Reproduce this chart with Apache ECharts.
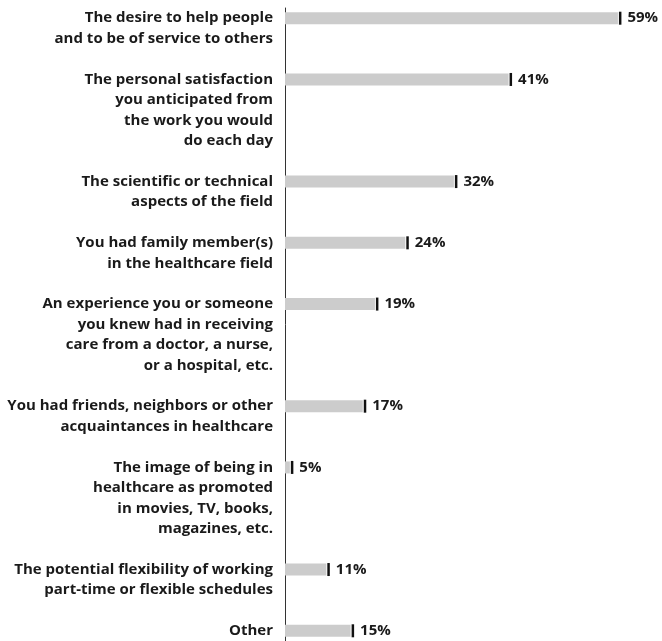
<!DOCTYPE html>
<html>
<head>
<meta charset="utf-8">
<title>Reasons for choosing healthcare</title>
<script src="https://cdn.jsdelivr.net/npm/echarts@6/dist/echarts.min.js"></script>
<style>
  html, body { margin: 0; padding: 0; background: #fff; }
  #chart { width: 662px; height: 641px; }
</style>
</head>
<body>
<div id="chart"></div>
<script>
var categories = [
  'The desire to help people\nand to be of service to others',
  'The personal satisfaction\nyou anticipated from\nthe work you would\ndo each day',
  'The scientific or technical\naspects of the field',
  'You had family member(s)\nin the healthcare field',
  'An experience you or someone\nyou knew had in receiving\ncare from a doctor, a nurse,\nor a hospital, etc.',
  'You had friends, neighbors or other\nacquaintances in healthcare',
  'The image of being in\nhealthcare as promoted\nin movies, TV, books,\nmagazines, etc.',
  'The potential flexibility of working\npart-time or flexible schedules',
  'Other'
];
var values = [59, 41, 32, 24, 19, 17, 5, 11, 15];

// one row per text line, plus an empty row between answers
var rows = [],
    rowValues = [];

function buildRows() {
  for(var i = 0; i < categories.length; i++) {
    var lines = categories[i].split('\n');
    for(var j = 0; j < lines.length; j++) {
      rows.push(lines[j]);
      rowValues.push(j === 0 ? values[i] : '-');
    }
    if(i < categories.length - 1) {
      rows.push('');
      rowValues.push('-');
    }
  }
}

buildRows();

var chart = echarts.init(document.getElementById('chart'));
var font = '"Open Sans", Lato, sans-serif';

var option = {
  animation: false,
  grid: {left: 285, right: 38, top: 8, height: 633},
  xAxis: {
    type: 'value',
    min: 4.2,
    max: 60,
    show: false
  },
  yAxis: {
    type: 'category',
    inverse: true,
    data: rows,
    axisLine: {lineStyle: {color: '#333', width: 1}},
    axisTick: {show: false},
    axisLabel: {
      interval: 0,
      margin: 12,
      color: '#1a1a1a',
      fontFamily: font,
      fontWeight: 'bold',
      fontSize: 15
    }
  },
  series: [{
    type: 'bar',
    data: rowValues,
    barWidth: 12,
    itemStyle: {color: '#cccccc'},
    label: {
      show: true,
      position: 'right',
      distance: 1,
      formatter: function(p) { return '{t|}{v|' + p.value + '%}'; },
      rich: {
        t: {width: 2.5, height: 13, backgroundColor: '#111'},
        v: {
          padding: [0, 0, 0, 6],
          color: '#1a1a1a',
          fontFamily: font,
          fontWeight: 'bold',
          fontSize: 15
        }
      }
    }
  }]
};

chart.setOption(option);
</script>
</body>
</html>
